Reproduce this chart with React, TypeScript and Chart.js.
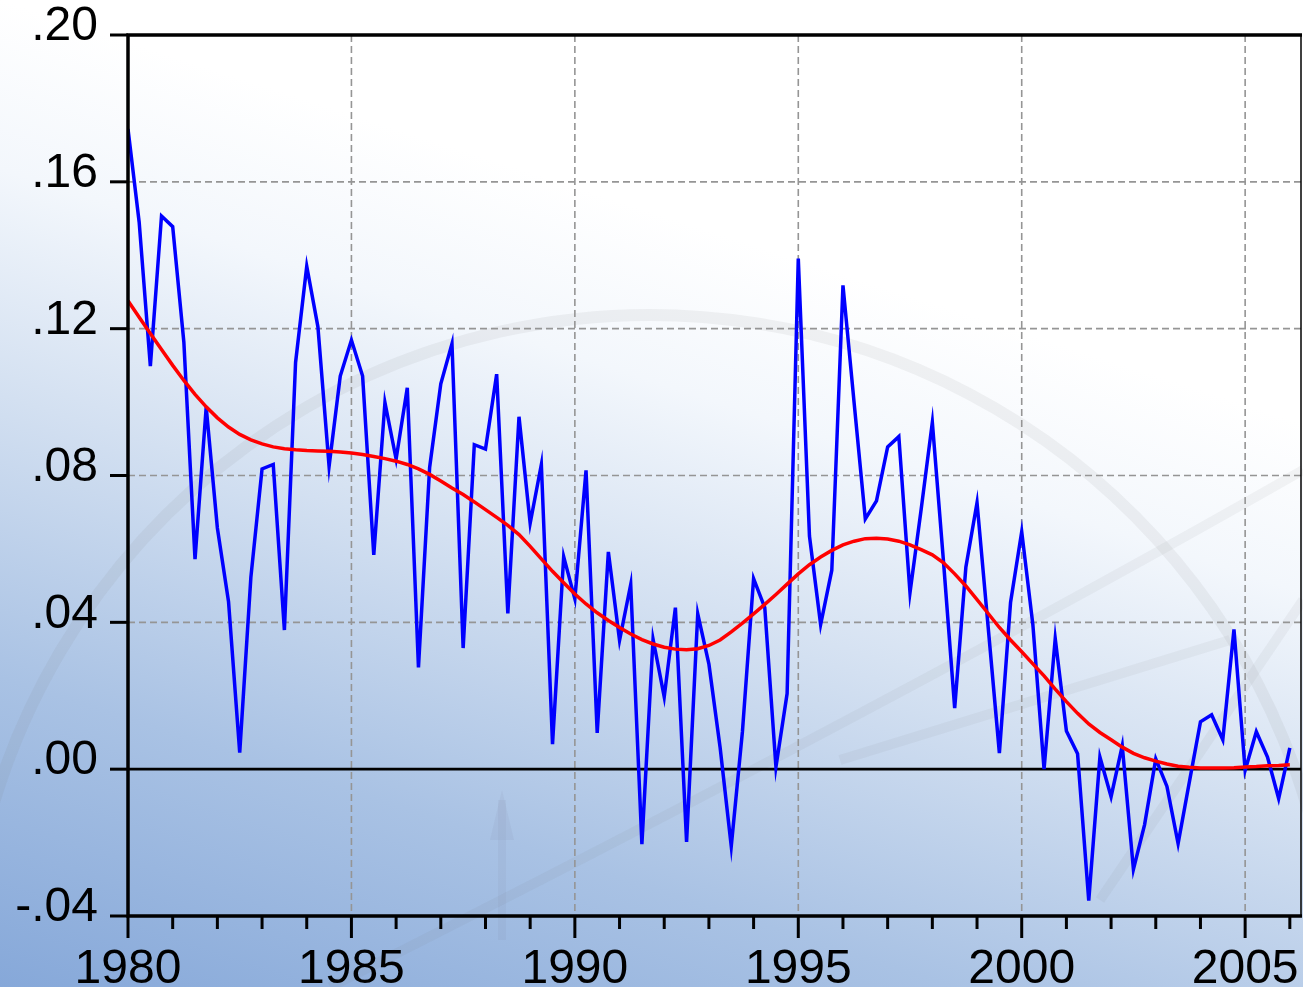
import React, { useEffect, useRef } from 'react';
import { Chart, registerables } from 'chart.js';

Chart.register(...registerables);

const START_YEAR = 1980;

// Quarterly series, 1980Q1 .. 2006Q1 (blue)
const seriesValues = [
  0.1744, 0.149, 0.1098, 0.1507, 0.1478, 0.1163, 0.0572, 0.0986, 0.0657, 0.0456,
  0.0045, 0.0523, 0.0818, 0.083, 0.0379, 0.1108, 0.137, 0.1205, 0.0825, 0.1071,
  0.1169, 0.1071, 0.0584, 0.0999, 0.0845, 0.1039, 0.0277, 0.0822, 0.105, 0.1159,
  0.033, 0.0884, 0.0872, 0.1076, 0.0424, 0.096, 0.067, 0.083, 0.0068, 0.0579,
  0.0464, 0.0814, 0.0099, 0.0592, 0.0351, 0.0503, -0.0204, 0.0354, 0.0197, 0.044,
  -0.0198, 0.0423, 0.0286, 0.006, -0.021, 0.0102, 0.0519, 0.044, 0.0006, 0.0206,
  0.1391, 0.0635, 0.0394, 0.0542, 0.1318, 0.0997, 0.0682, 0.0731, 0.0878, 0.0906,
  0.0481, 0.0708, 0.0945, 0.0565, 0.0166, 0.055, 0.0726, 0.0386, 0.0044, 0.0454,
  0.0647, 0.0393, 0.0, 0.0356, 0.0104, 0.0042, -0.0358, 0.0033, -0.0075, 0.0064,
  -0.0273, -0.0151, 0.0028, -0.0047, -0.0203, -0.0036, 0.0129, 0.0148, 0.008, 0.0381,
  -0.0003, 0.0102, 0.0033, -0.008, 0.0058,
];

// Smoothed trend (red)
const trendValues = [
  0.1276, 0.1231, 0.1187, 0.1143, 0.11, 0.1059, 0.1021, 0.0987, 0.0957, 0.0932,
  0.0912, 0.0897, 0.0886, 0.0878, 0.0873, 0.087, 0.0868, 0.0867, 0.0866, 0.0864,
  0.0861, 0.0857, 0.0852, 0.0846, 0.0839, 0.083, 0.0818, 0.0803, 0.0785, 0.0766,
  0.0748, 0.0728, 0.0707, 0.0686, 0.0664, 0.0639, 0.0607, 0.0573, 0.0539, 0.0508,
  0.0477, 0.045, 0.0426, 0.0405, 0.0386, 0.0368, 0.0353, 0.0341, 0.0332, 0.0327,
  0.0325, 0.0328, 0.0337, 0.0352, 0.0374, 0.0398, 0.0423, 0.0449, 0.0476, 0.0504,
  0.0532, 0.0557, 0.0578, 0.0596, 0.0611, 0.0621, 0.0628, 0.0629, 0.0627, 0.0621,
  0.0611, 0.0598, 0.0584, 0.0562, 0.0532, 0.0499, 0.0462, 0.0424, 0.0386, 0.0352,
  0.032, 0.0287, 0.0254, 0.0218, 0.0184, 0.0152, 0.0123, 0.01, 0.008, 0.006,
  0.0043, 0.0031, 0.0022, 0.0014, 0.0008, 0.0005, 0.0003, 0.0003, 0.0003, 0.0004,
  0.0006, 0.0007, 0.0009, 0.001, 0.0012,
];

const quarterLabels = seriesValues.map(
  (_, i) => `${START_YEAR + Math.floor(i / 4)}Q${(i % 4) + 1}`
);

const xTickValues = [1980, 1985, 1990, 1995, 2000, 2005];
const xTickLabels = ['1980', '1985', '1990', '1995', '2000', '2005'];
const xMinorYears = [1980, 1981, 1982, 1983, 1984, 1985, 1986, 1987, 1988, 1989, 1990, 1991, 1992, 1993, 1994, 1995, 1996, 1997, 1998, 1999, 2000, 2001, 2002, 2003, 2004, 2005, 2006];
const yTickValues = [-0.04, 0, 0.04, 0.08, 0.12, 0.16, 0.2];
const yTickLabels = ['-.04', '.00', '.04', '.08', '.12', '.16', '.20'];

const X_MIN = 1980;
const X_MAX = 2006.25;
const Y_MIN = -0.04;
const Y_MAX = 0.2;

const FONT = "'Liberation Sans', Arial, sans-serif";

function quarterToX(label: string): number {
  const [yr, q] = label.split('Q');
  return Number(yr) + (Number(q) - 1) / 4;
}

const eviewsPlugin = {
  id: 'eviewsFrame',
  beforeDraw(chart: any) {
    const { ctx } = chart;
    ctx.save();
    ctx.strokeStyle = 'rgba(120,120,120,0.09)';
    ctx.lineWidth = 12;
    ctx.beginPath();
    ctx.arc(650, 1000, 685, Math.PI * 1.05, Math.PI * 1.98);
    ctx.stroke();
    ctx.strokeStyle = 'rgba(120,120,120,0.07)';
    ctx.lineWidth = 10;
    ctx.beginPath();
    ctx.moveTo(330, 987);
    ctx.quadraticCurveTo(900, 700, 1303, 470);
    ctx.stroke();
    ctx.beginPath();
    ctx.moveTo(840, 760);
    ctx.lineTo(1230, 640);
    ctx.stroke();
    ctx.beginPath();
    ctx.moveTo(1100, 900);
    ctx.lineTo(1303, 600);
    ctx.stroke();
    ctx.strokeStyle = 'rgba(120,120,140,0.08)';
    ctx.lineWidth = 8;
    ctx.beginPath();
    ctx.moveTo(502, 940);
    ctx.lineTo(502, 800);
    ctx.stroke();
    ctx.fillStyle = 'rgba(120,120,140,0.08)';
    ctx.beginPath();
    ctx.moveTo(490, 840);
    ctx.lineTo(502, 790);
    ctx.lineTo(514, 840);
    ctx.closePath();
    ctx.fill();
    ctx.restore();
  },
  beforeDatasetsDraw(chart: any) {
    const { ctx, chartArea, scales } = chart;
    const { left, right, top, bottom } = chartArea;
    const x = scales.x;
    const y = scales.y;
    ctx.save();
    ctx.strokeStyle = '#959595';
    ctx.lineWidth = 1.6;
    ctx.setLineDash([7, 4]);
    yTickValues.forEach((v) => {
      if (v > Y_MIN + 1e-9 && v < Y_MAX - 1e-9 && Math.abs(v) > 1e-9) {
        const py = y.getPixelForValue(v);
        ctx.beginPath();
        ctx.moveTo(left, py);
        ctx.lineTo(right, py);
        ctx.stroke();
      }
    });
    xTickValues.forEach((v) => {
      if (v > X_MIN && v < X_MAX) {
        const px = x.getPixelForValue(v);
        ctx.beginPath();
        ctx.moveTo(px, top);
        ctx.lineTo(px, bottom);
        ctx.stroke();
      }
    });
    ctx.setLineDash([]);
    ctx.strokeStyle = '#000';
    ctx.lineWidth = 2.6;
    const zy = y.getPixelForValue(0);
    ctx.beginPath();
    ctx.moveTo(left, zy);
    ctx.lineTo(right, zy);
    ctx.stroke();
    ctx.restore();
  },
  afterDatasetsDraw(chart: any) {
    const { ctx, chartArea, scales } = chart;
    const { left, right, top, bottom } = chartArea;
    const x = scales.x;
    const y = scales.y;
    ctx.save();
    ctx.strokeStyle = '#000';
    ctx.lineCap = 'butt';
    ctx.lineWidth = 1.5;
    ctx.beginPath();
    ctx.moveTo(right, top);
    ctx.lineTo(right, bottom);
    ctx.stroke();
    ctx.lineWidth = 3.5;
    ctx.beginPath();
    ctx.moveTo(right + 1, top);
    ctx.lineTo(left, top);
    ctx.lineTo(left, bottom);
    ctx.lineTo(right + 1, bottom);
    ctx.stroke();
    ctx.lineWidth = 3;
    yTickValues.forEach((v) => {
      const py = y.getPixelForValue(v);
      ctx.beginPath();
      ctx.moveTo(left - 18, py);
      ctx.lineTo(left, py);
      ctx.stroke();
    });
    xMinorYears.forEach((yr) => {
      const px = x.getPixelForValue(yr);
      const major = xTickValues.indexOf(yr) >= 0;
      ctx.beginPath();
      ctx.moveTo(px, bottom);
      ctx.lineTo(px, bottom + (major ? 22 : 13));
      ctx.stroke();
    });
    ctx.restore();
  },
};

export default function App() {
  const canvasRef = useRef<HTMLCanvasElement | null>(null);

  useEffect(() => {
    const canvas = canvasRef.current;
    if (!canvas) return;
    const chart = new Chart(canvas, {
      type: 'line',
      data: {
        datasets: [
          {
            label: 'Trend',
            data: trendValues.map((v, i) => ({ x: quarterToX(quarterLabels[i]), y: v })),
            borderColor: '#ff0000',
            borderWidth: 3.5,
            pointRadius: 0,
            tension: 0,
            fill: false,
            order: 0,
          },
          {
            label: 'Series',
            data: seriesValues.map((v, i) => ({ x: quarterToX(quarterLabels[i]), y: v })),
            borderColor: '#0000ff',
            borderWidth: 3.5,
            pointRadius: 0,
            tension: 0,
            fill: false,
            order: 1,
          },
        ],
      },
      options: {
        responsive: false,
        animation: false,
        devicePixelRatio: 1,
        layout: { padding: { top: 35, right: 2, left: 0, bottom: 0 } },
        plugins: {
          legend: { display: false },
          tooltip: { enabled: false },
        },
        scales: {
          x: {
            type: 'linear',
            min: X_MIN,
            max: X_MAX,
            grid: { display: false },
            border: { display: false },
            afterBuildTicks: (s: any) => {
              s.ticks = xTickValues.map((v) => ({ value: v }));
            },
            afterFit: (s: any) => {
              s.height = 71;
              s.paddingLeft = 0;
              s.paddingRight = 0;
            },
            ticks: {
              autoSkip: false,
              maxRotation: 0,
              minRotation: 0,
              padding: 17,
              color: '#000',
              font: { family: FONT, size: 48 },
              callback: (_v: any, i: number) => xTickLabels[i],
            },
          },
          y: {
            type: 'linear',
            min: Y_MIN,
            max: Y_MAX,
            grid: { display: false },
            border: { display: false },
            afterBuildTicks: (s: any) => {
              s.ticks = yTickValues.map((v) => ({ value: v }));
            },
            afterFit: (s: any) => {
              s.width = 128;
              s.paddingTop = 0;
              s.paddingBottom = 0;
            },
            ticks: {
              autoSkip: false,
              padding: 22,
              labelOffset: -8,
              color: '#000',
              font: { family: FONT, size: 48 },
              callback: (_v: any, i: number) => yTickLabels[i],
            },
          },
        },
      },
      plugins: [eviewsPlugin],
    } as any);
    return () => chart.destroy();
  }, []);

  return (
    <div
      style={{
        position: 'fixed',
        left: 0,
        top: 0,
        width: 1303,
        height: 987,
        overflow: 'hidden',
        background:
          'linear-gradient(18deg, #86a8d9 0%, #a9c2e4 22%, #d3e0f1 42%, #f3f7fc 58%, #ffffff 70%)',
      }}
    >
      <canvas ref={canvasRef} width={1303} height={987} style={{ display: 'block' }} />
    </div>
  );
}
